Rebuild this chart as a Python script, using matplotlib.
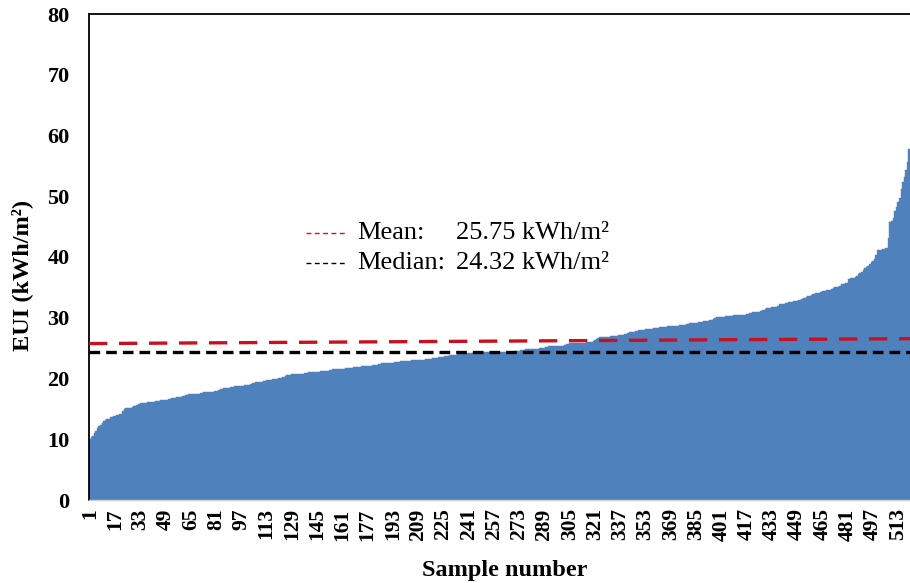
import matplotlib
matplotlib.use("Agg")
import matplotlib.pyplot as plt
import numpy as np

eui = [
10.0, 10.3, 10.6, 11.0, 11.4, 11.8, 12.1, 12.4, 12.7, 13.0, 13.2, 13.3, 13.4, 13.6, 13.7, 13.8, 13.9, 14.0, 14.0, 14.1,
14.2, 14.6, 15.0, 15.1, 15.1, 15.2, 15.2, 15.3, 15.4, 15.5, 15.7, 15.8, 15.9, 15.9, 16.0, 16.0, 16.0, 16.1, 16.1, 16.1,
16.2, 16.2, 16.3, 16.3, 16.3, 16.4, 16.4, 16.4, 16.5, 16.5, 16.6, 16.6, 16.8, 16.8, 16.8, 16.9, 16.9, 17.0, 17.0, 17.1,
17.2, 17.3, 17.3, 17.4, 17.4, 17.4, 17.4, 17.5, 17.5, 17.5, 17.6, 17.6, 17.7, 17.7, 17.7, 17.7, 17.8, 17.8, 17.8, 17.9,
17.9, 18.0, 18.1, 18.2, 18.3, 18.4, 18.5, 18.5, 18.5, 18.6, 18.6, 18.6, 18.7, 18.7, 18.7, 18.7, 18.8, 18.8, 18.9, 18.9,
19.0, 19.0, 19.1, 19.2, 19.3, 19.4, 19.4, 19.5, 19.5, 19.5, 19.6, 19.6, 19.7, 19.7, 19.8, 19.8, 19.9, 19.9, 20.0, 20.0,
20.1, 20.1, 20.2, 20.3, 20.4, 20.5, 20.6, 20.6, 20.7, 20.7, 20.7, 20.7, 20.8, 20.8, 20.8, 20.8, 20.9, 20.9, 20.9, 21.0,
21.0, 21.0, 21.0, 21.1, 21.1, 21.1, 21.2, 21.2, 21.2, 21.3, 21.3, 21.3, 21.4, 21.4, 21.5, 21.5, 21.5, 21.5, 21.6, 21.6,
21.6, 21.6, 21.7, 21.7, 21.8, 21.8, 21.8, 21.9, 21.9, 21.9, 21.9, 21.9, 22.0, 22.0, 22.0, 22.0, 22.0, 22.1, 22.1, 22.2,
22.2, 22.3, 22.3, 22.4, 22.4, 22.5, 22.5, 22.5, 22.5, 22.6, 22.6, 22.6, 22.6, 22.7, 22.7, 22.7, 22.7, 22.8, 22.8, 22.8,
22.8, 22.9, 22.9, 22.9, 23.0, 23.0, 23.0, 23.0, 23.0, 23.1, 23.1, 23.1, 23.1, 23.2, 23.2, 23.2, 23.2, 23.3, 23.3, 23.3,
23.4, 23.5, 23.5, 23.6, 23.6, 23.7, 23.7, 23.7, 23.8, 23.8, 23.8, 23.9, 23.9, 24.0, 24.0, 24.1, 24.1, 24.1, 24.2, 24.2,
24.2, 24.2, 24.2, 24.2, 24.3, 24.3, 24.3, 24.3, 24.3, 24.3, 24.3, 24.3, 24.3, 24.3, 24.3, 24.3, 24.3, 24.3, 24.3, 24.3,
24.4, 24.4, 24.4, 24.4, 24.4, 24.4, 24.4, 24.4, 24.4, 24.5, 24.5, 24.5, 24.6, 24.7, 24.7, 24.7, 24.8, 24.8, 24.8, 24.8,
24.8, 24.9, 24.9, 24.9, 24.9, 25.0, 25.0, 25.0, 25.1, 25.2, 25.2, 25.3, 25.3, 25.3, 25.3, 25.3, 25.4, 25.4, 25.4, 25.4,
25.4, 25.5, 25.6, 25.7, 25.8, 25.8, 25.8, 25.8, 25.8, 25.9, 25.9, 25.9, 25.9, 25.9, 25.9, 26.0, 26.0, 26.0, 26.0, 26.1,
26.3, 26.5, 26.7, 26.8, 26.8, 26.9, 26.9, 26.9, 26.9, 26.9, 27.0, 27.0, 27.0, 27.0, 27.0, 27.1, 27.1, 27.1, 27.2, 27.3,
27.4, 27.5, 27.6, 27.7, 27.7, 27.7, 27.8, 27.9, 28.0, 28.0, 28.0, 28.0, 28.1, 28.1, 28.1, 28.1, 28.2, 28.3, 28.3, 28.3,
28.3, 28.4, 28.4, 28.4, 28.4, 28.5, 28.6, 28.6, 28.6, 28.7, 28.7, 28.7, 28.7, 28.7, 28.8, 28.8, 28.8, 28.8, 28.9, 29.0,
29.1, 29.2, 29.2, 29.2, 29.2, 29.2, 29.3, 29.3, 29.3, 29.4, 29.4, 29.5, 29.5, 29.6, 29.7, 29.8, 30.0, 30.1, 30.2, 30.2,
30.2, 30.2, 30.2, 30.3, 30.3, 30.3, 30.3, 30.3, 30.4, 30.4, 30.4, 30.4, 30.4, 30.5, 30.5, 30.5, 30.6, 30.6, 30.7, 30.8,
30.9, 30.9, 30.9, 31.0, 31.0, 31.1, 31.2, 31.3, 31.5, 31.6, 31.6, 31.6, 31.7, 31.7, 31.7, 31.8, 32.0, 32.2, 32.2, 32.2,
32.3, 32.4, 32.5, 32.6, 32.6, 32.6, 32.7, 32.7, 32.8, 32.9, 33.0, 33.1, 33.2, 33.3, 33.4, 33.5, 33.6, 33.8, 33.9, 33.9,
34.0, 34.0, 34.1, 34.2, 34.4, 34.4, 34.4, 34.5, 34.5, 34.6, 34.7, 34.9, 35.0, 35.0, 35.1, 35.2, 35.5, 35.5, 35.6, 35.7,
35.8, 36.3, 36.5, 36.5, 36.6, 36.7, 36.9, 37.2, 37.4, 37.6, 37.9, 38.2, 38.4, 38.6, 38.8, 39.1, 39.4, 39.6, 40.4, 41.2,
41.2, 41.2, 41.3, 41.3, 41.4, 41.5, 43.2, 45.7, 46.0, 46.4, 47.5, 48.3, 49.1, 49.7, 51.2, 52.4, 53.2, 54.4, 55.7, 57.7,
]
sample_ids = list(range(1, len(eui) + 1))
xtick_labels = [str(v) for v in range(1, len(eui) + 1, 16)]
ytick_values = [0, 10, 20, 30, 40, 50, 60, 70, 80]
mean_value = 25.75
median_value = 24.32
mean_line_ends = [25.75, 26.56]
legend_rows = [("Mean:", "25.75 kWh/m²"), ("Median:", "24.32 kWh/m²")]

serif = ["Liberation Serif", "DejaVu Serif"]
plt.rcParams["font.family"] = serif

W, H = 910, 583
fig = plt.figure(figsize=(W / 100, H / 100), dpi=100)
ax = fig.add_axes([89 / W, 1 - 500 / H, (910 - 89) / W, (500 - 14) / H])

ax.bar(sample_ids, eui, width=1.0, color="#4F81BD", edgecolor="#4F81BD", linewidth=0.3, zorder=1)

n = len(eui)
ax.plot([sample_ids[0] - 0.5, sample_ids[-1] + 0.5], mean_line_ends, color="#C8101E",
        linewidth=2.4, dashes=(5.5, 3.5), zorder=3)
ax.plot([sample_ids[0] - 0.5, sample_ids[-1] + 0.5], [median_value, median_value], color="black",
        linewidth=2.4, dashes=(3.2, 1.8), zorder=3)

ax.set_xlim(0.5, n + 0.5)
ax.set_ylim(0, 80)
ax.set_yticks(ytick_values)
ax.set_xticks(list(range(1, n + 1, 16)))
ax.set_xticklabels(xtick_labels, rotation=90, fontsize=15.5, fontweight="bold")
ax.set_yticklabels([str(v) for v in ytick_values], fontsize=16, fontweight="bold")
ax.tick_params(axis="both", length=0)
ax.tick_params(axis="y", pad=14)
ax.tick_params(axis="x", pad=6)

for s in ["top", "left"]:
    ax.spines[s].set_color("black")
    ax.spines[s].set_linewidth(1.3)
ax.spines["right"].set_visible(False)
ax.spines["bottom"].set_color("#D0D0D0")
ax.spines["bottom"].set_linewidth(1.0)

ax.set_xlabel("Sample number", fontsize=17.5, fontweight="bold")
ax.set_ylabel("EUI (kWh/m²)", fontsize=17.5, fontweight="bold")
ax.xaxis.set_label_coords((505 - 89) / 821, (500 - 560) / 486)
ax.yaxis.set_label_coords((33 - 89) / 821, (500 - 275) / 486)

# legend (manual)
def px2ax(x, y):
    return ((x - 89) / (910 - 89), (500 - y) / (500 - 14))

rows_y = [233, 263]
colors = ["red", "black"]
for (lab, val), yy, c in zip(legend_rows, rows_y, colors):
    x0, y0 = px2ax(306, yy)
    x1, _ = px2ax(346, yy)
    ax.plot([x0, x1], [y0, y0], transform=ax.transAxes, color=c, linewidth=1.0,
            dashes=(3.5, 2.5), zorder=4)
    tx, ty = px2ax(357, yy)
    ax.text(tx, ty, lab, transform=ax.transAxes, fontsize=19, va="center", ha="left")
    vx, _ = px2ax(456, yy)
    ax.text(vx, ty, val, transform=ax.transAxes, fontsize=19, va="center", ha="left")

fig.savefig("out.png", dpi=100)
